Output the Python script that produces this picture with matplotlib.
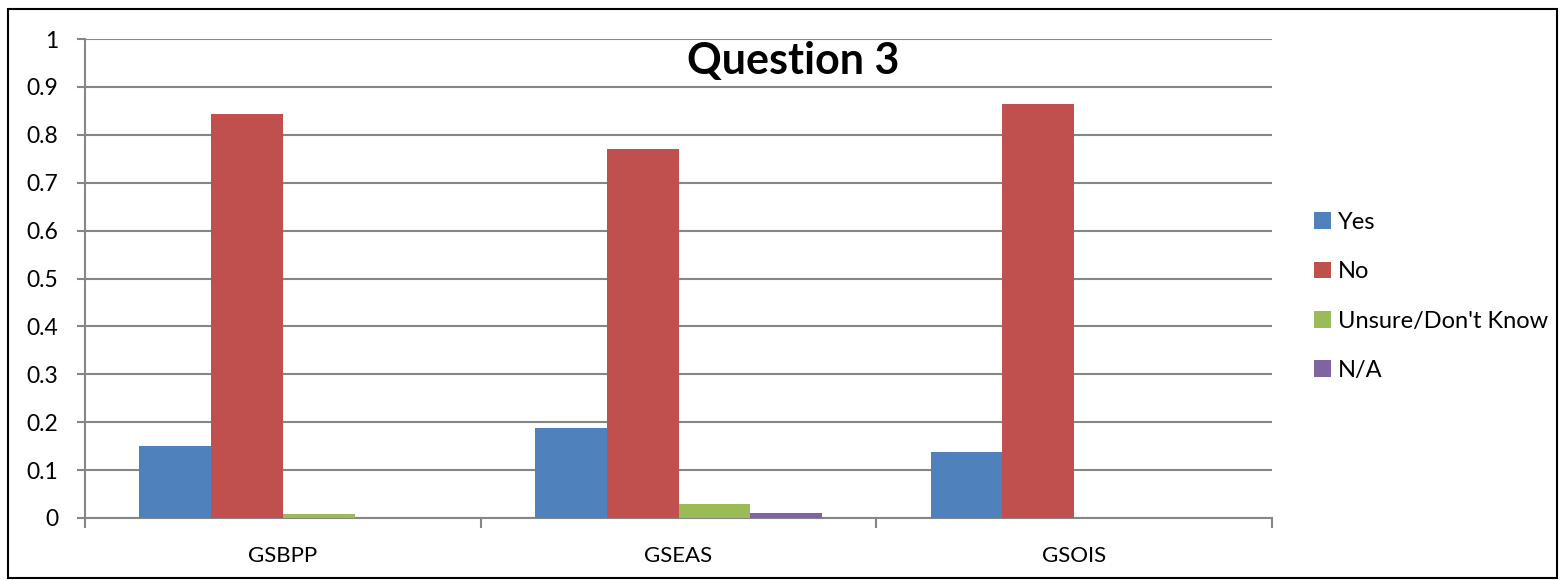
import matplotlib
matplotlib.use("Agg")
import matplotlib.pyplot as plt
import numpy as np
from matplotlib.patches import Rectangle

categories = ["GSBPP", "GSEAS", "GSOIS"]
series_names = ["Yes", "No", "Unsure/Don't Know", "N/A"]
yes_vals = [0.150, 0.188, 0.138]
no_vals = [0.843, 0.770, 0.864]
unsure_vals = [0.009, 0.030, 0.0]
na_vals = [0.0, 0.010, 0.0]
y_ticks = [0, 0.1, 0.2, 0.3, 0.4, 0.5, 0.6, 0.7, 0.8, 0.9, 1]
y_tick_labels = ["0", "0.1", "0.2", "0.3", "0.4", "0.5", "0.6", "0.7", "0.8", "0.9", "1"]
title = "Question 3"

colors = ["#4F81BD", "#C0504D", "#9BBB59", "#8064A2"]
font = ["Lato", "DejaVu Sans"]
plt.rcParams['font.family'] = font

W, H = 1562, 580
fig = plt.figure(figsize=(W / 100, H / 100), dpi=100)
ax = fig.add_axes([85 / W, (H - 518) / H, (1272 - 85) / W, (518 - 39) / H])

x = np.arange(len(categories))
bw = 0.1813
all_vals = [yes_vals, no_vals, unsure_vals, na_vals]
for i, (vals, name, c) in enumerate(zip(all_vals, series_names, colors)):
    ax.bar(x + (i - 1.5) * bw, vals, width=bw, color=c, label=name, zorder=3)

ax.set_xlim(-0.5, 2.5)
ax.set_ylim(0, 1)
ax.set_yticks(y_ticks)
ax.set_yticklabels(y_tick_labels)
grid_c = "#868686"
ax.yaxis.grid(True, color=grid_c, linewidth=1.5, zorder=0)
ax.set_axisbelow(True)
for s in ["top", "right"]:
    ax.spines[s].set_visible(False)
for s in ["left", "bottom"]:
    ax.spines[s].set_color(grid_c)
    ax.spines[s].set_linewidth(1.5)
ax.tick_params(axis="y", direction="out", length=6, width=1.5, color=grid_c,
               labelsize=16.5, pad=13)
ax.set_xticks(x)
ax.set_xticklabels(categories)
ax.tick_params(axis="x", length=0, labelsize=16, pad=20)
ax.set_xticks([-0.5, 0.5, 1.5, 2.5], minor=True)
ax.tick_params(axis="x", which="minor", direction="out", length=7, width=1.5, color=grid_c)

fig.text(793 / W, (H - 61) / H, title, ha="center", va="center",
         fontsize=31, fontweight="bold")

leg = ax.legend(loc="center left", bbox_to_anchor=(1293 / W, (H - 296.5) / H),
                bbox_transform=fig.transFigure,
                frameon=False, fontsize=17, handlelength=0.7, handleheight=0.7,
                handletextpad=0.3, labelspacing=1.2)

fig.patches.append(Rectangle((8 / W, 2 / H), (1557 - 8) / W, (571 - 2) / H,
                             transform=fig.transFigure, fill=False,
                             edgecolor="black", linewidth=1.5))

fig.savefig("out.png", dpi=100)
